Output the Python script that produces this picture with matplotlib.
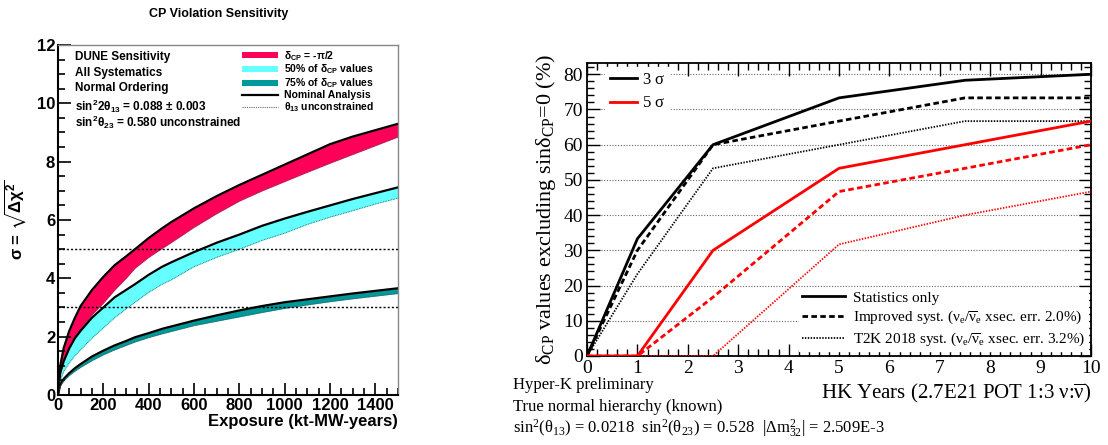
import matplotlib
import numpy as np

matplotlib.use("Agg")
import matplotlib.pyplot as plt
from matplotlib.font_manager import FontProperties
from matplotlib.lines import Line2D
from matplotlib.patches import Patch
from matplotlib.ticker import MultipleLocator

# --- DUNE: sigma vs exposure (kt-MW-years) ---
exposure = [0, 10, 25, 50, 75, 100, 150, 200, 250, 300, 340, 400, 460, 500,
            600, 700, 800, 900, 1000, 1100, 1200, 1300, 1400, 1500]
dcp_half_pi_nom = [0, 1.0, 1.6, 2.2, 2.65, 3.05, 3.6, 4.05, 4.45, 4.75, 5.0,
                   5.38, 5.72, 5.93, 6.4, 6.82, 7.2, 7.55, 7.9, 8.25, 8.6,
                   8.86, 9.08, 9.3]
dcp_half_pi_t13 = [0, 0.7, 1.15, 1.6, 1.95, 2.25, 2.75, 3.15, 3.6, 4.0, 4.35,
                   4.72, 5.03, 5.23, 5.75, 6.22, 6.65, 7.0, 7.32, 7.64, 7.95,
                   8.25, 8.55, 8.85]
frac50_nom = [0, 0.75, 1.15, 1.6, 1.95, 2.2, 2.65, 3.0, 3.35, 3.6, 3.8, 4.12,
              4.4, 4.55, 4.9, 5.22, 5.5, 5.8, 6.05, 6.28, 6.5, 6.72, 6.92, 7.12]
frac50_t13 = [0, 0.5, 0.8, 1.1, 1.35, 1.55, 1.95, 2.3, 2.65, 2.95, 3.18, 3.52,
              3.8, 3.95, 4.4, 4.72, 5.0, 5.3, 5.55, 5.85, 6.1, 6.32, 6.55, 6.75]
frac75_nom = [0, 0.35, 0.55, 0.75, 0.92, 1.06, 1.32, 1.52, 1.7, 1.85, 1.98,
              2.12, 2.27, 2.35, 2.55, 2.73, 2.9, 3.05, 3.18, 3.28, 3.38, 3.48,
              3.57, 3.66]
frac75_t13 = [0, 0.3, 0.48, 0.67, 0.82, 0.95, 1.18, 1.38, 1.55, 1.7, 1.82,
              1.97, 2.1, 2.18, 2.38, 2.53, 2.68, 2.83, 2.97, 3.09, 3.2, 3.3,
              3.39, 3.48]

# --- Hyper-K: fraction of dCP values excluding sin(dCP)=0 ---
hk_years = [0, 1, 2.5, 5, 7.5, 10]
s3_stat = [0, 33.3, 60.0, 73.3, 78.3, 80.0]
s3_improved = [0, 30.0, 60.0, 66.7, 73.3, 73.3]
s3_t2k = [0, 23.3, 53.3, 60.0, 66.7, 66.7]
s5_stat = [0, 0, 30.0, 53.3, 60.0, 66.7]
s5_improved = [0, 0, 16.7, 46.7, 53.3, 60.0]
s5_t2k = [0, 0, 0, 31.7, 40.0, 46.7]

PINK = "#ff0059"
CYAN = "#66ffff"
TEAL = "#009999"

SANS = "Liberation Sans"
SERIF = ["Liberation Serif", "DejaVu Serif"]

# math letters are drawn upright in each text's own font
plt.rcParams["mathtext.fontset"] = "stix"
plt.rcParams["mathtext.default"] = "regular"

fig = plt.figure(figsize=(11.08, 4.45), dpi=100)

# ---------------- left panel ----------------
ax = fig.add_axes([0.0523, 0.1124, 0.307, 0.7865])
bands = [
    (dcp_half_pi_nom, dcp_half_pi_t13, PINK),
    (frac50_nom, frac50_t13, CYAN),
    (frac75_nom, frac75_t13, TEAL),
]
for nom, t13, col in bands:
    ax.fill_between(exposure, t13, nom, color=col, lw=0)
    ax.plot(exposure, nom, color="black", lw=1.6)
    ax.plot(exposure, t13, color="#555555", lw=0.6, ls=(0, (1, 1)))

for lvl in (3, 5):
    ax.axhline(lvl, color="black", lw=1.0, ls=(0, (1.5, 1.5)))

ax.set_xlim(0, 1500)
ax.set_ylim(0, 12)
ax.xaxis.set_major_locator(MultipleLocator(200))
ax.xaxis.set_minor_locator(MultipleLocator(50))
ax.yaxis.set_major_locator(MultipleLocator(2))
ax.yaxis.set_minor_locator(MultipleLocator(0.5))
ax.tick_params(which="both", direction="in", top=False, right=False,
               labelsize=12, width=1.2, pad=2)
ax.tick_params(which="major", length=9)
ax.tick_params(which="minor", length=5)
for lab in ax.get_xticklabels() + ax.get_yticklabels():
    lab.set_fontweight("bold")
    lab.set_family(SANS)
for side in ("left", "bottom"):
    ax.spines[side].set_linewidth(1.5)
for side in ("top", "right"):
    ax.spines[side].set_color("#888888")
    ax.spines[side].set_linewidth(1.0)

ax.set_xlabel("Exposure (kt-MW-years)", fontsize=12, fontweight="bold",
              family=SANS, loc="right", labelpad=1)
ax.set_ylabel(r"$\sigma$ = $\sqrt{\Delta\chi^2}$", fontsize=12,
              fontweight="bold", family=SANS, labelpad=6)
fig.text(0.197, 0.968, "CP Violation Sensitivity", fontsize=9,
         fontweight="bold", family=SANS, ha="center", va="center")

info = [
    "DUNE Sensitivity",
    "All Systematics",
    "Normal Ordering",
    r"sin$^2$2$\theta_{13}$ = 0.088 $\pm$ 0.003",
    r"sin$^2\theta_{23}$ = 0.580 unconstrained",
]
for i, line in enumerate(info):
    ax.text(0.05, 0.982 - i * 0.0445, line, transform=ax.transAxes,
            fontsize=8.5, fontweight="bold", family=SANS, va="top")

leg_handles = [
    Patch(facecolor=PINK, edgecolor="none"),
    Patch(facecolor=CYAN, edgecolor="none"),
    Patch(facecolor=TEAL, edgecolor="none"),
    Line2D([], [], color="black", lw=1.6),
    Line2D([], [], color="#666666", lw=0.8, ls=(0, (1, 1))),
]
leg_labels = [
    r"$\delta_{CP}$ = -$\pi$/2",
    r"50% of $\delta_{CP}$ values",
    r"75% of $\delta_{CP}$ values",
    "Nominal Analysis",
    r"$\theta_{13}$ unconstrained",
]
ax.legend(leg_handles, leg_labels, loc="upper left",
          bbox_to_anchor=(0.52, 1.01), frameon=False,
          prop=FontProperties(family=SANS, weight="bold", size=7.5),
          handlelength=3.4, handleheight=0.55, labelspacing=0.0,
          borderaxespad=0.3, handletextpad=0.6)

# ---------------- right panel ----------------
bx = fig.add_axes([0.5298, 0.2, 0.4549, 0.6584])
for yv in range(10, 90, 10):
    bx.axhline(yv, color="#666666", lw=0.8, ls=(0, (1, 1.5)), zorder=0)

dotted = (0, (0.8, 0.8))
dashed = (0, (2, 1.2))
bx.plot(hk_years, s3_stat, color="black", lw=2.0, zorder=3)
bx.plot(hk_years, s3_improved, color="black", lw=2.0, ls=dashed, zorder=3)
bx.plot(hk_years, s3_t2k, color="black", lw=1.3, ls=dotted, zorder=3)
bx.plot(hk_years, s5_stat, color="red", lw=2.0, zorder=3)
bx.plot(hk_years, s5_improved, color="red", lw=2.0, ls=dashed, zorder=3)
bx.plot(hk_years, s5_t2k, color="red", lw=1.3, ls=dotted, zorder=3)

bx.set_xlim(0, 10)
bx.set_ylim(0, 83.2)
bx.xaxis.set_major_locator(MultipleLocator(1))
bx.xaxis.set_minor_locator(MultipleLocator(0.2))
bx.yaxis.set_major_locator(MultipleLocator(10))
bx.yaxis.set_minor_locator(MultipleLocator(2))
bx.tick_params(which="both", direction="in", top=True, right=True,
               labelsize=14, width=1.0, pad=3)
bx.tick_params(which="major", length=9)
bx.tick_params(which="minor", length=5)
for lab in bx.get_xticklabels() + bx.get_yticklabels():
    lab.set_family(SERIF)
for sp in bx.spines.values():
    sp.set_linewidth(1.3)

nubar = r"\overline{\nu}"
dcp = r"\delta_{CP}"

bx.set_xlabel(rf"HK Years (2.7E21 POT 1:3 $\nu$:${nubar}$)",
              fontsize=15, family=SERIF, loc="right", labelpad=3)
bx.set_ylabel(rf"${dcp}$ values excluding sin${dcp}$=0 (%)",
              fontsize=16, family=SERIF, labelpad=4)

sig_leg = bx.legend(
    [Line2D([], [], color="black", lw=2), Line2D([], [], color="red", lw=2)],
    [r"3 $\sigma$", r"5 $\sigma$"],
    loc="upper left", bbox_to_anchor=(0.02, 1.015), frameon=True,
    fancybox=False, edgecolor="white", framealpha=1.0,
    prop=FontProperties(family=SERIF, size=12),
    handlelength=1.6, handletextpad=0.3, labelspacing=0.45, borderpad=0.3)
sig_leg.set_zorder(4)
bx.add_artist(sig_leg)

sys_leg = bx.legend(
    [Line2D([], [], color="black", lw=2),
     Line2D([], [], color="black", lw=2, ls=dashed),
     Line2D([], [], color="black", lw=1.3, ls=dotted)],
    ["Statistics only",
     rf"Improved syst. ($\nu_e$/${nubar}_e$ xsec. err. 2.0%)",
     rf"T2K 2018 syst. ($\nu_e$/${nubar}_e$ xsec. err. 3.2%)"],
    loc="lower right", bbox_to_anchor=(1.0, 0.005), frameon=True,
    fancybox=False, edgecolor="white", framealpha=1.0,
    prop=FontProperties(family=SERIF, size=11),
    handlelength=2.8, handletextpad=0.5, labelspacing=0.3, borderpad=0.2,
    borderaxespad=0.2)
sys_leg.set_zorder(4)

notes = [
    "Hyper-K preliminary",
    "True normal hierarchy (known)",
    r"sin$^2$($\theta_{13}$) = 0.0218  sin$^2$($\theta_{23}$)"
    r" = 0.528  |$\Delta$m$^2_{32}$| = 2.509E-3",
]
for i, line in enumerate(notes):
    fig.text(0.463, 0.135 - i * 0.049, line, fontsize=12, family=SERIF,
             va="center", ha="left")

fig.savefig("out.png", dpi=100)
